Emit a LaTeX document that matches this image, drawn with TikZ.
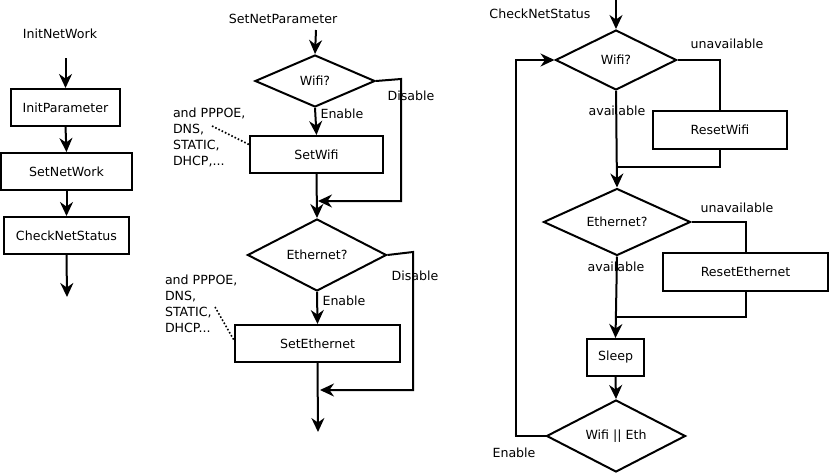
\documentclass[tikz,border=0pt]{standalone}
\usepackage{fontspec}
\setmainfont{DejaVu Sans}
\usetikzlibrary{shapes.geometric,arrows.meta}
\begin{document}
\begin{tikzpicture}[x=1pt,y=-1pt,
  font=\fontsize{12.6}{16}\selectfont, line width=2pt,
  box/.style={draw, rectangle, inner sep=0pt, line width=2pt},
  dec/.style={draw, diamond, aspect=2, inner sep=0pt, line width=2pt},
  lbl/.style={inner sep=0pt},
  note/.style={inner sep=0pt, align=left, anchor=base west},
  arr/.style={-{Stealth[length=14pt,width=13pt]}},
  dots/.style={dotted, line width=1.6pt}]
\useasboundingbox (0,0) rectangle (829,474);

% ---------- left column ----------
\node[lbl] (initnw) at (60,34) {InitNetWork};
\coordinate (c0) at (65.5,58);
\node[box, minimum width=109, minimum height=37] (initp) at (65.5,107.5) {InitParameter};
\node[box, minimum width=131, minimum height=37] (setnw) at (66.5,171.5) {SetNetWork};
\node[box, minimum width=125, minimum height=37] (check) at (66.5,235.5) {CheckNetStatus};
\coordinate (c1) at (67,297);
\draw[arr] (c0) -- (initp.north);
\draw[arr] (initp.south) -- (setnw.north);
\draw[arr] (setnw.south) -- (check.north);
\draw[arr] (check.south) -- (c1);

% ---------- middle column ----------
\node[lbl] (snp) at (283,19) {SetNetParameter};
\coordinate (m0) at (316,30);
\node[dec, minimum width=120, minimum height=52] (wifi1) at (315,81) {Wifi?};
\node[box, minimum width=133, minimum height=37] (setwifi) at (316.5,154.5) {SetWifi};
\node[lbl] (en1) at (342,114) {Enable};
\node[lbl] (dis1) at (411,96) {Disable};
\node[dec, minimum width=139, minimum height=72] (eth1) at (317,255) {Ethernet?};
\node[lbl] (dis2) at (415,276) {Disable};
\node[lbl] (en2) at (344,301) {Enable};
\node[box, minimum width=165, minimum height=37] (seteth) at (317.5,343.5) {SetEthernet};
\coordinate (m1) at (401,79);
\coordinate (m2b) at (401,201);
\coordinate (m3) at (318,201);
\coordinate (m4) at (413,252);
\coordinate (m5) at (413,390);
\coordinate (m6) at (320,390);
\coordinate (m7) at (318,432);
\draw[arr] (m0) -- (wifi1.north);
\draw[arr] (wifi1.south) -- (setwifi.north);
\draw[arr] (setwifi.south) -- (eth1.north);
\draw[arr] (wifi1.east) -- (m1) -- (m2b) -- (m3);
\draw[arr] (eth1.east) -- (m4) -- (m5) -- (m6);
\draw[arr] (eth1.south) -- (seteth.north);
\draw[arr] (seteth.south) -- (m7);

\node[note] (note1) at (172,165) {and PPPOE,\\DNS,\\STATIC,\\DHCP,...};
\node[note] (note2) at (164,332) {and PPPOE,\\DNS,\\STATIC,\\DHCP...};
\coordinate (d1) at (212,126);
\coordinate (d2) at (250,145);
\coordinate (d3) at (215,307);
\coordinate (d4) at (235,342);
\draw[dots] (d1) -- (d2);
\draw[dots] (d3) -- (d4);

% ---------- right column ----------
\node[lbl] (cns) at (540,14) {CheckNetStatus};
\coordinate (r0) at (616,0);
\node[dec, minimum width=121, minimum height=60] (wifi2) at (616,60) {Wifi?};
\node[lbl] (un1) at (727,44) {unavailable};
\node[box, minimum width=134, minimum height=38] (rwifi) at (720,130) {ResetWifi};
\node[lbl] (av1) at (617,111) {available};
\node[dec, minimum width=147, minimum height=67] (eth2) at (617,222) {Ethernet?};
\node[lbl] (un2) at (737,208) {unavailable};
\node[box, minimum width=165, minimum height=38] (reth) at (745.5,272) {ResetEthernet};
\node[lbl] (av2) at (616,267) {available};
\node[box, minimum width=57, minimum height=37] (sleep) at (615.5,357.5) {Sleep};
\node[dec, minimum width=139, minimum height=72] (we) at (616,436) {Wifi || Eth};
\node[lbl] (en3) at (514,453) {Enable};
\coordinate (r1) at (720,60);
\coordinate (r2) at (720,167);
\coordinate (r3) at (617,167);
\coordinate (r4) at (745.5,222);
\coordinate (r5) at (745.5,317);
\coordinate (r6) at (616,317);
\coordinate (r7) at (516,436);
\coordinate (r8) at (516,60);
\draw[arr] (r0) -- (wifi2.north);
\draw (wifi2.east) -- (r1) -- (rwifi.north);
\draw (rwifi.south) -- (r2) -- (r3);
\draw[arr] (wifi2.south) -- (eth2.north);
\draw (eth2.east) -- (r4) -- (reth.north);
\draw (reth.south) -- (r5) -- (r6);
\draw[arr] (eth2.south) -- (sleep.north);
\draw[arr] (sleep.south) -- (we.north);
\draw[arr] (we.west) -- (r7) -- (r8) -- (wifi2.west);
\end{tikzpicture}
\end{document}
